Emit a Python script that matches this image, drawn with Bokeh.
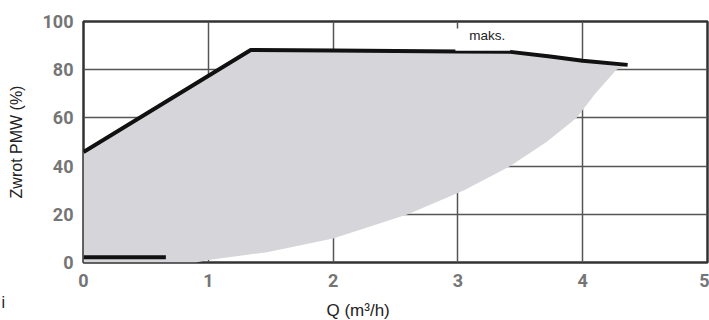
from bokeh.plotting import figure
from bokeh.models import Range1d, FixedTicker, Label
from bokeh.layouts import column
from bokeh.core.properties import value
from bokeh.embed import file_html
from bokeh.resources import INLINE

# data
x_ticks = [0, 1, 2, 3, 4, 5]
y_ticks = [0, 20, 40, 60, 80, 100]

max_q = [0.0, 1.34, 2.0, 3.0, 3.42, 3.74, 4.0, 4.36]
max_ret = [45.8, 88.2, 88.0, 87.6, 87.4, 85.5, 83.7, 82.0]

low_q = [4.36, 4.27, 4.1, 3.95, 3.71, 3.42, 3.05, 2.6, 2.0, 1.47, 1.0, 0.9, 0.0]
low_ret = [82.0, 80.0, 70.0, 60.0, 50.0, 40.0, 30.0, 20.0, 10.0, 4.3, 1.0, 0.0, 0.0]

min_q = [0.0, 0.66]
min_ret = [2.2, 2.2]

x_title = "Q (m³/h)"
y_title = "Zwrot PMW (%)"
maks_text = "maks."
stray_text = "i"

maks_box = dict(left=2.98, right=3.42, bottom=87.9, top=97.1)
maks_pos = (3.09, 91.0)

p = figure(width=709, height=292, output_backend="svg", toolbar_location=None,
           x_range=Range1d(0, 5), y_range=Range1d(0, 100),
           min_border_left=83, min_border_right=2, min_border_top=21, min_border_bottom=30)
p.frame_align = False
p.background_fill_color = "white"
p.border_fill_color = "white"
p.outline_line_color = "#333333"
p.outline_line_width = 2.5

# gray operating area
poly_x = max_q + low_q
poly_y = max_ret + low_ret
p.patch(poly_x, poly_y, fill_color="#d6d6da", line_color=None, level="underlay")

# grid
for g in (p.xgrid, p.ygrid):
    g.grid_line_color = "#555555"
    g.grid_line_width = 1.5
p.xgrid.level = "image"
p.ygrid.level = "image"
p.xaxis.ticker = FixedTicker(ticks=x_ticks)
p.yaxis.ticker = FixedTicker(ticks=y_ticks)
p.xgrid.ticker = FixedTicker(ticks=x_ticks)
p.ygrid.ticker = FixedTicker(ticks=y_ticks)

# curves
p.line(max_q, max_ret, line_color="#111111", line_width=4)
p.line(min_q, min_ret, line_color="#111111", line_width=4)

# axes style
for ax in (p.xaxis, p.yaxis):
    ax.axis_line_color = None
    ax.major_tick_line_color = None
    ax.minor_tick_line_color = None
    ax.major_tick_out = 0
    ax.major_tick_in = 0
    ax.major_label_text_font = "Roboto"
    ax.major_label_text_font_style = "bold"
    ax.major_label_text_font_size = "18px"
    ax.major_label_text_color = "#757575"
    ax.major_label_standoff = 10
p.xaxis.major_label_standoff = 11

p.yaxis.axis_label = y_title
p.yaxis.axis_label_text_font = "Liberation Sans"
p.yaxis.axis_label_text_font_style = "normal"
p.yaxis.axis_label_text_font_size = "16px"
p.yaxis.axis_label_text_color = "#222222"
p.yaxis.axis_label_standoff = 15

# maks. label
p.quad(left=[maks_box["left"]], right=[maks_box["right"]], bottom=[maks_box["bottom"]],
       top=[maks_box["top"]], fill_color="white", line_color=None)
p.add_layout(Label(x=maks_pos[0], y=maks_pos[1], text=maks_text, text_font="Liberation Sans",
                   text_font_size="13.5px", text_color="#222222"))

# strip below the chart holding the x-axis title and the stray "i"
strip = figure(width=709, height=28, output_backend="svg", toolbar_location=None,
               x_range=Range1d(0, 709), y_range=Range1d(0, 28),
               x_axis_location=None, y_axis_location=None,
               min_border_left=0, min_border_right=0, min_border_top=0, min_border_bottom=0)
strip.frame_align = False
strip.grid.visible = False
strip.outline_line_color = None
strip.background_fill_color = "white"
strip.border_fill_color = "white"
strip.text(x=[326], y=[10], text=[x_title], text_font=value("Liberation Sans"),
           text_font_size="17px", text_color="#222222", text_baseline="alphabetic",
           text_align="left")
strip.text(x=[1], y=[18], text=[stray_text], text_font=value("Liberation Sans"),
           text_font_size="16px", text_color="#222222", text_baseline="alphabetic",
           text_align="left")

layout = column(p, strip, spacing=0)
open("out.html", "w").write(file_html(layout, INLINE))
